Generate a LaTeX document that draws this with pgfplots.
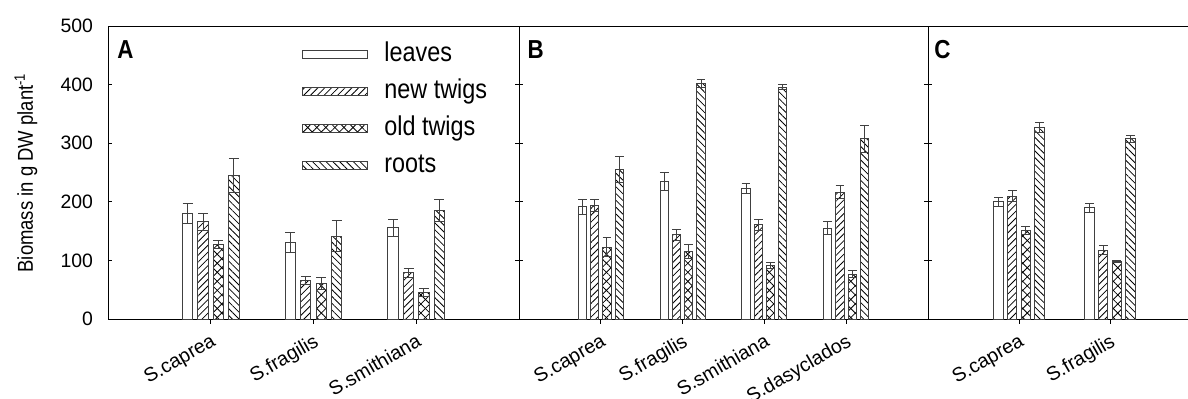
\documentclass[border=0pt]{standalone}
\usepackage{fontspec}
\setmainfont[FakeStretch=0.86]{Liberation Sans}
\newfontfamily\plainsans{Liberation Sans}
\usepackage{pgfplots}
\pgfplotsset{compat=1.18}
\usetikzlibrary{patterns.meta}

\tikzset{letter/.style={anchor=south west, inner sep=0pt, font=\bfseries\fontsize{13}{14}\selectfont}}
\pgfplotsset{
  panel/.style={
    scale only axis, anchor=south west, height=146.65pt,
    ymin=0, ymax=500, ytick={0,100,...,500},
    ybar, bar width=0.1,
    xtick align=outside, ytick align=inside, xtick pos=lower,
    major tick length=2.2pt,
    axis line style={line width=0.5pt, black},
    tick style={line width=0.5pt, black},
    xticklabel style={rotate=30, anchor=north east, inner sep=0pt, xshift=-2.5pt, yshift=-3.5pt, font=\plainsans\fontsize{9.8}{11}\selectfont},
    yticklabel style={inner sep=0pt, xshift=-7.3pt, font=\plainsans\fontsize{9.7}{11}\selectfont},
    /pgf/number format/assume math mode=true,
    enlarge x limits=false,
    error bars/y dir=both, error bars/y explicit,
    error bars/error bar style={line width=0.5pt, black!75},
    error bars/error mark options={rotate=90, mark size=2.5pt, line width=0.5pt, black!75},
  },
  barbase/.style={draw=black!75, line width=0.5pt,
    legend image code/.code={\draw[##1] (0pt,-2pt) rectangle (32.5pt,2pt);}},
  leaves/.style={barbase, fill=white, bar shift=-0.225},
  ntwigs/.style={barbase, pattern={Lines[angle=45,distance=2.4pt,line width=0.4pt]}, bar shift=-0.075},
  otwigs/.style={barbase, pattern={Lines[angle=45,distance=3.2pt,line width=0.4pt]}, postaction={pattern={Lines[angle=-45,distance=3.2pt,line width=0.4pt]}}, bar shift=0.075},
  roots/.style={barbase, pattern={Lines[angle=-45,distance=2.4pt,line width=0.4pt]}, bar shift=0.225},
}

\begin{document}
\begin{tikzpicture}
% Panel A
\begin{axis}[panel, at={(54pt,-159.65pt)}, width=205.5pt,
  xmin=0, xmax=4, xtick={1,2,3}, xticklabels={S.caprea, S.fragilis, S.smithiana},
  ylabel={Biomass in g DW plant\textsuperscript{-1}},
  every axis y label/.style={at={(axis description cs:-0.1995,0.5)}, rotate=90, anchor=center, font=\fontsize{10.75}{12}\selectfont},
  legend cell align=left,
  legend style={at={(axis description cs:0.472,0.949)}, anchor=north west, draw=none, fill=none, inner sep=0pt,
    font=\fontsize{13.6}{15}\selectfont, row sep=5.45pt,
    nodes={inner sep=0pt, text height=10pt, text depth=3pt},
    /tikz/every odd column/.append style={column sep=8pt}},
]
\addplot[leaves] coordinates {(1,181) +- (0,17) (2,131) +- (0,17) (3,156) +- (0,14)};
\addplot[ntwigs] coordinates {(1,166) +- (0,15) (2,66) +- (0,7) (3,79) +- (0,7)};
\addplot[otwigs] coordinates {(1,128) +- (0,7) (2,61) +- (0,11) (3,46) +- (0,7)};
\addplot[roots] coordinates {(1,245) +- (0,29) (2,142) +- (0,26) (3,185) +- (0,19)};
\legend{leaves, new twigs, old twigs, roots}
\node[letter] at (axis description cs:0.022,0.8875) {A};
\end{axis}
% Panel B
\begin{axis}[panel, at={(259.5pt,-159.65pt)}, width=204.5pt,
  xmin=0, xmax=5, xtick={1,2,3,4}, xticklabels={S.caprea, S.fragilis, S.smithiana, S.dasyclados},
  yticklabels={}, error bars/error mark options={rotate=90, mark size=2.2pt, line width=0.5pt, black!75},
]
\addplot[leaves] coordinates {(1,192) +- (0,13) (2,235) +- (0,15) (3,223) +- (0,8) (4,155) +- (0,11)};
\addplot[ntwigs] coordinates {(1,194) +- (0,11) (2,144) +- (0,9) (3,161) +- (0,9) (4,217) +- (0,11)};
\addplot[otwigs] coordinates {(1,123) +- (0,16) (2,116) +- (0,12) (3,92) +- (0,5) (4,77) +- (0,6)};
\addplot[roots] coordinates {(1,255) +- (0,22) (2,402) +- (0,6) (3,396) +- (0,5) (4,308) +- (0,23)};
\node[letter] at (axis description cs:0.0203,0.8875) {B};
\end{axis}
% Panel C
\begin{axis}[panel, at={(464pt,-159.65pt)}, width=136.5pt,
  xmin=0, xmax=3, xtick={1,2}, xticklabels={S.caprea, S.fragilis},
  yticklabels={}, error bars/error mark options={rotate=90, mark size=2.2pt, line width=0.5pt, black!75},
]
\addplot[leaves] coordinates {(1,200) +- (0,8) (2,190) +- (0,8)};
\addplot[ntwigs] coordinates {(1,210) +- (0,9) (2,118) +- (0,7)};
\addplot[otwigs] coordinates {(1,152) +- (0,7) (2,99) +- (0,1.5)};
\addplot[roots] coordinates {(1,327) +- (0,9) (2,308) +- (0,6)};
\node[letter] at (axis description cs:0.022,0.8875) {C};
\end{axis}
\pgfresetboundingbox
\path[use as bounding box] (0,0) rectangle (594pt,-199.5pt);
\end{tikzpicture}
\end{document}
